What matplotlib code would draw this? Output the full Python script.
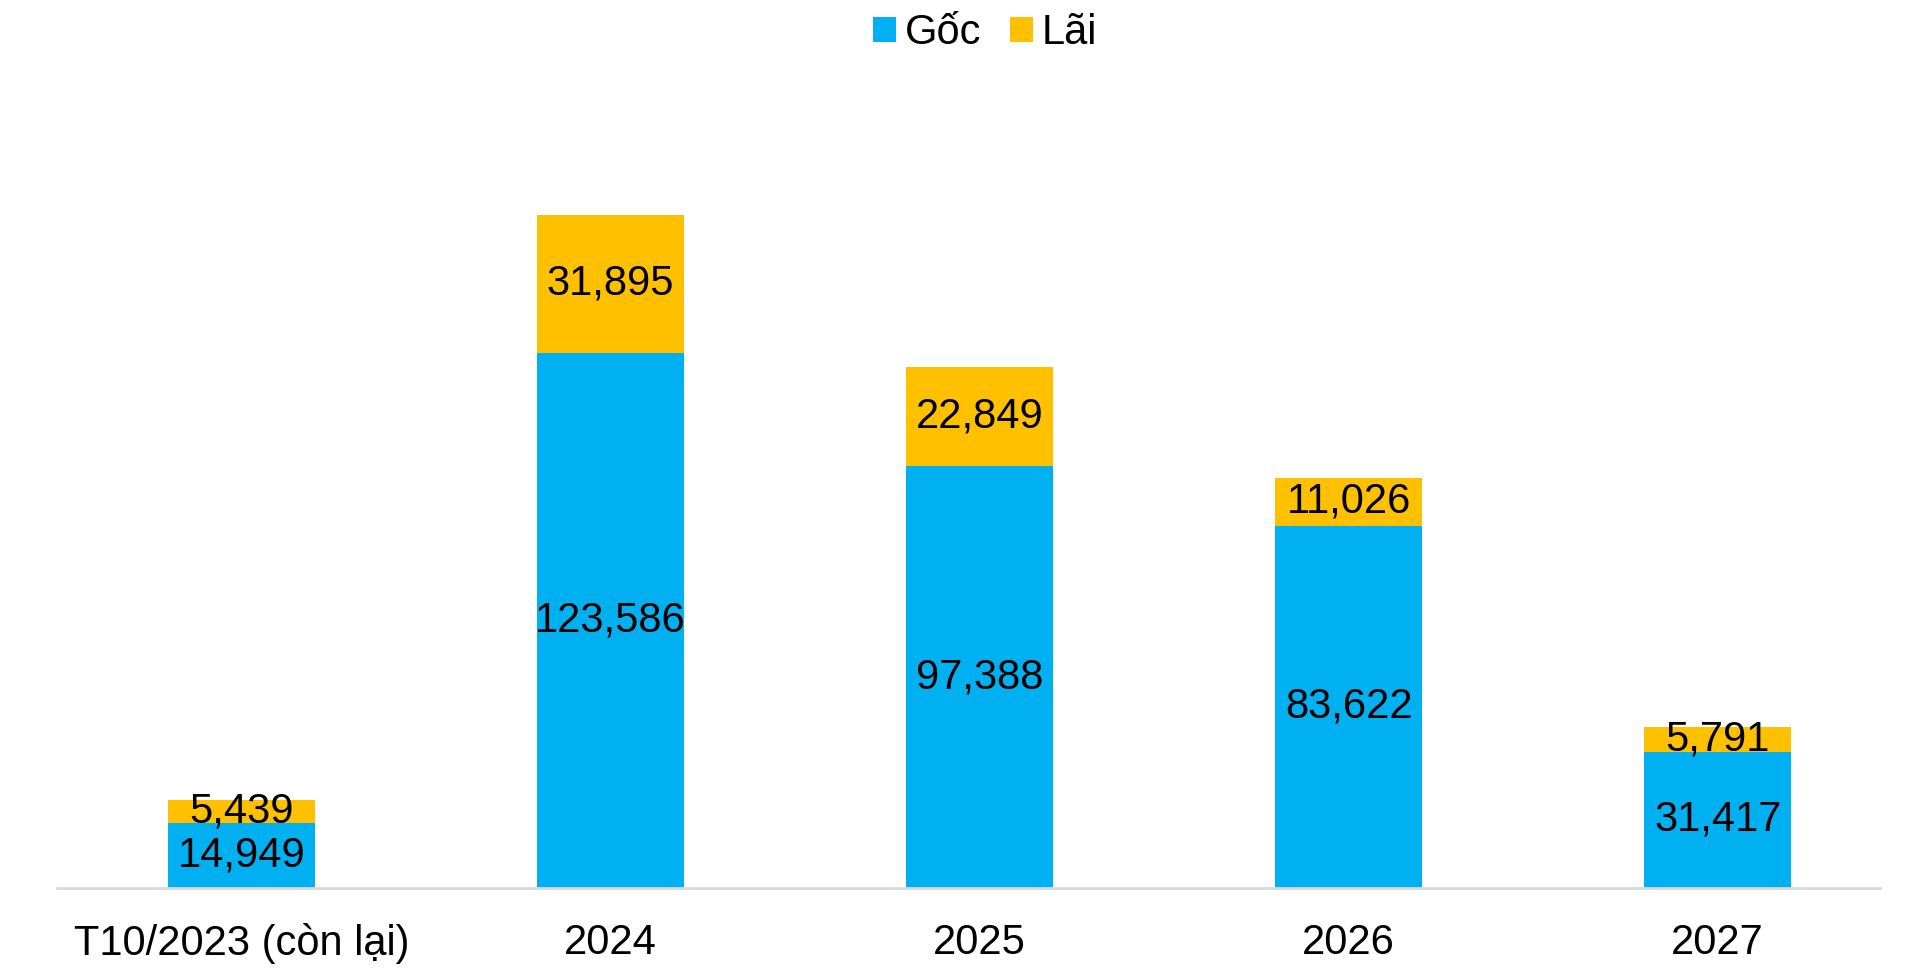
import matplotlib
matplotlib.use("Agg")
import matplotlib.pyplot as plt
import numpy as np

# ============== Data ==============
categories = ["T10/2023 (còn lại)", "2024", "2025", "2026", "2027"]
goc = [14949, 123586, 97388, 83622, 31417]   # principal
lai = [5439, 31895, 22849, 11026, 5791]      # interest

BLUE = "#00B0F0"
YELLOW = "#FFC000"

plt.rcParams['font.family'] = ['Liberation Sans', 'DejaVu Sans']

fig = plt.figure(figsize=(19.2, 9.77), dpi=100)
ax = fig.add_axes([0.0297, 0.0911, 0.9495, 0.798])

x = np.arange(len(categories))
b1 = ax.bar(x, goc, width=0.4, color=BLUE, label="Gốc")
b2 = ax.bar(x, lai, width=0.4, bottom=goc, color=YELLOW, label="Lãi")

# value labels centred in each segment
for bars in (b1, b2):
    ax.bar_label(bars, labels=[f"{v:,}" for v in bars.datavalues],
                 label_type="center", fontsize=30, color="black")

ax.set_xlim(-0.5, 4.44)
ax.set_ylim(0, 180000)
ax.set_xticks(x)
ax.set_xticklabels(categories, fontsize=30)
ax.tick_params(axis="x", length=0, pad=25)
ax.set_yticks([])

for side in ("top", "right", "left"):
    ax.spines[side].set_visible(False)
ax.spines["bottom"].set_color("#D9D9D9")
ax.spines["bottom"].set_linewidth(2)

fig.legend(loc="upper center", bbox_to_anchor=(0.513, 1.025), ncol=2,
           frameon=False, fontsize=30, handlelength=0.55, handleheight=0.55,
           handletextpad=0.2, columnspacing=0.7)

fig.savefig("out.png", dpi=100)
